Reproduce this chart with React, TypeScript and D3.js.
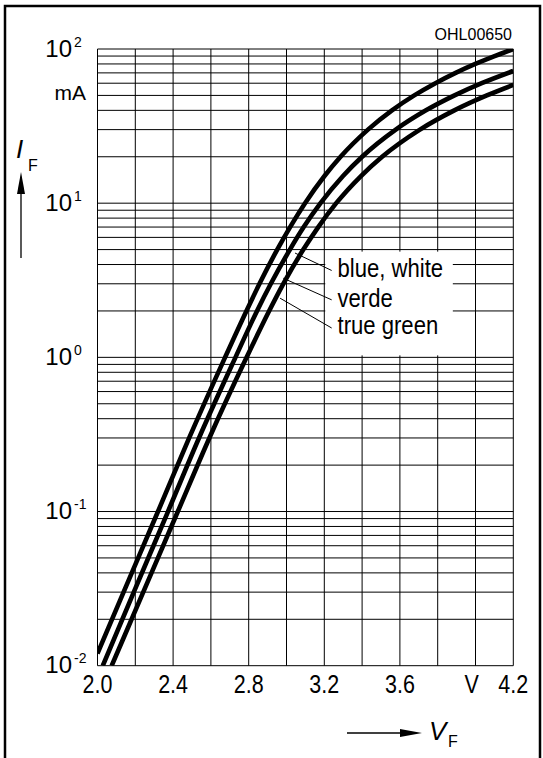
import React from 'react';
import * as d3 from 'd3';

// Forward current vs forward voltage, three LED colour groups
const W = 543;
const H = 758;

const VF_GRID = [2.0, 2.2, 2.4, 2.6, 2.8, 3.0, 3.2, 3.4, 3.6, 3.8, 4.0, 4.2];
const VF_TICKS = [2.0, 2.4, 2.8, 3.2, 3.6, 4.2];
const VF_UNIT_AT = 3.98;
const IF_DECADES = [-2, -1, 0, 1, 2];
const IF_MANTISSAS = [1, 2, 3, 4, 5, 6, 7, 8, 9];

// blue, white
const BLUE_WHITE_VF = [2.0, 2.138, 2.32, 2.485, 2.675, 2.788, 2.857, 2.951, 3.019, 3.098, 3.201, 3.286, 3.431, 3.558, 3.676, 3.788, 3.895, 3.999, 4.101, 4.2];
const BLUE_WHITE_IF = [0.012, 0.03, 0.1, 0.3, 1, 2, 3, 5, 7, 10, 15, 20, 30, 40, 50, 60, 70, 80, 90, 100];
// verde
const VERDE_VF = [2.028, 2.192, 2.373, 2.537, 2.73, 2.844, 2.917, 3.018, 3.091, 3.18, 3.299, 3.4, 3.578, 3.738, 3.889, 4.033, 4.2];
const VERDE_IF = [0.01, 0.03, 0.1, 0.3, 1, 2, 3, 5, 7, 10, 15, 20, 30, 40, 50, 60, 72];
// true green
const TRUE_GREEN_VF = [2.075, 2.242, 2.425, 2.592, 2.789, 2.908, 2.983, 3.089, 3.168, 3.263, 3.394, 3.506, 3.706, 3.888, 4.06, 4.2];
const TRUE_GREEN_IF = [0.01, 0.03, 0.1, 0.3, 1, 2, 3, 5, 7, 10, 15, 20, 30, 40, 50, 58.5];

const SERIES_NAMES = ['blue, white', 'verde', 'true green'];
const LABEL_VF = 3.27;
const LABEL_IF = [3.31, 2.13, 1.42];
const LEADER_FROM_VF = [3.045, 2.983, 2.966];
const LEADER_FROM_IF = [4.75, 3.26, 2.42];
const LEADER_TO_VF = 3.239;
const LEADER_TO_IF = [3.66, 2.36, 1.55];
const LABEL_PANEL_VF = [3.205, 3.88];
const LABEL_PANEL_IF = [1.03, 4.85];

const FONT = "'Liberation Sans', Arial, Helvetica, sans-serif";

export default function App() {
  const x = d3.scaleLinear().domain([2.0, 4.2]).range([97.5, 513.3]);
  const y = d3.scaleLog().domain([0.01, 100]).range([665.7, 49]);
  const [x0, x1] = x.range();
  const [y0, y1] = y.range();

  const hLines: number[] = [];
  IF_DECADES.forEach((d) => {
    IF_MANTISSAS.forEach((m) => {
      const v = m * Math.pow(10, d);
      if (v <= 100 + 1e-9) hLines.push(v);
    });
  });

  const series = [
    BLUE_WHITE_VF.map((v, i) => [v, BLUE_WHITE_IF[i]] as [number, number]),
    VERDE_VF.map((v, i) => [v, VERDE_IF[i]] as [number, number]),
    TRUE_GREEN_VF.map((v, i) => [v, TRUE_GREEN_IF[i]] as [number, number]),
  ];

  const line = d3
    .line<[number, number]>()
    .x((d) => x(d[0]))
    .y((d) => y(d[1]))
    .curve(d3.curveMonotoneX);

  const tickY = y0 + 27;

  return (
    <svg
      width={W}
      height={H}
      viewBox={`0 0 ${W} ${H}`}
      style={{ position: 'absolute', left: 0, top: 0, background: '#fff' }}
      fontFamily={FONT}
    >
      <defs>
        <clipPath id="plot-clip">
          <rect x={x0} y={y1} width={x1 - x0} height={y0 - y1} />
        </clipPath>
      </defs>
      <rect x={0} y={0} width={W} height={H} fill="#fff" />
      {/* outer frame */}
      <rect x={5} y={6} width={535} height={H + 10} fill="none" stroke="#000" strokeWidth={2.5} />

      {/* grid */}
      <g stroke="#000" strokeWidth={1}>
        {VF_GRID.map((v) => (
          <line key={'v' + v} x1={x(v)} x2={x(v)} y1={y1} y2={y0} />
        ))}
        {hLines.map((v) => (
          <line key={'h' + v} x1={x0} x2={x1} y1={y(v)} y2={y(v)} />
        ))}
      </g>

      {/* label panel */}
      <rect
        x={x(LABEL_PANEL_VF[0])}
        y={y(LABEL_PANEL_IF[1])}
        width={x(LABEL_PANEL_VF[1]) - x(LABEL_PANEL_VF[0])}
        height={y(LABEL_PANEL_IF[0]) - y(LABEL_PANEL_IF[1])}
        fill="#fff"
      />

      {/* curves */}
      <g clipPath="url(#plot-clip)" fill="none" stroke="#000" strokeWidth={4.6}>
        {series.map((s, i) => (
          <path key={i} d={line(s) || ''} />
        ))}
      </g>

      {/* leaders */}
      <g stroke="#000" strokeWidth={1}>
        {SERIES_NAMES.map((n, i) => (
          <line
            key={n}
            x1={x(LEADER_FROM_VF[i])}
            y1={y(LEADER_FROM_IF[i])}
            x2={x(LEADER_TO_VF)}
            y2={y(LEADER_TO_IF[i])}
          />
        ))}
      </g>
      {SERIES_NAMES.map((n, i) => (
        <text
          key={n}
          transform={`translate(${x(LABEL_VF)},${y(LABEL_IF[i])}) scale(0.85,1)`}
          fontSize={26}
        >
          {n}
        </text>
      ))}

      {/* x tick labels */}
      {VF_TICKS.map((v) => (
        <text
          key={v}
          transform={`translate(${x(v)},${tickY}) scale(0.86,1)`}
          textAnchor="middle"
          fontSize={25}
        >
          {v.toFixed(1)}
        </text>
      ))}
      <text
        transform={`translate(${x(VF_UNIT_AT)},${tickY}) scale(0.86,1)`}
        textAnchor="middle"
        fontSize={25}
      >
        V
      </text>

      {/* y tick labels */}
      {IF_DECADES.map((d) => (
        <g key={d}>
          <text x={72} y={y(Math.pow(10, d)) + 7.5} textAnchor="end" fontSize={24}>
            10
          </text>
          <text x={74} y={y(Math.pow(10, d)) - 2.5} fontSize={14}>
            {String(d)}
          </text>
        </g>
      ))}
      <text x={86} y={100} textAnchor="end" fontSize={21}>
        mA
      </text>

      <text x={512} y={40} textAnchor="end" fontSize={16}>
        OHL00650
      </text>

      {/* axis titles */}
      <g>
        <text x={16} y={158} fontSize={26} fontStyle="italic">I</text>
        <text x={28} y={171} fontSize={16}>F</text>
        <line x1={21} x2={21} y1={258} y2={192} stroke="#000" strokeWidth={1.3} />
        <path d="M21,172 L17,194 L25,194 Z" fill="#000" />
      </g>
      <g>
        <line x1={347} x2={402} y1={733} y2={733} stroke="#000" strokeWidth={1.3} />
        <path d="M422,733 L400,729 L400,737 Z" fill="#000" />
        <text x={429} y={740} fontSize={26} fontStyle="italic">V</text>
        <text x={448} y={747} fontSize={16}>F</text>
      </g>
    </svg>
  );
}
